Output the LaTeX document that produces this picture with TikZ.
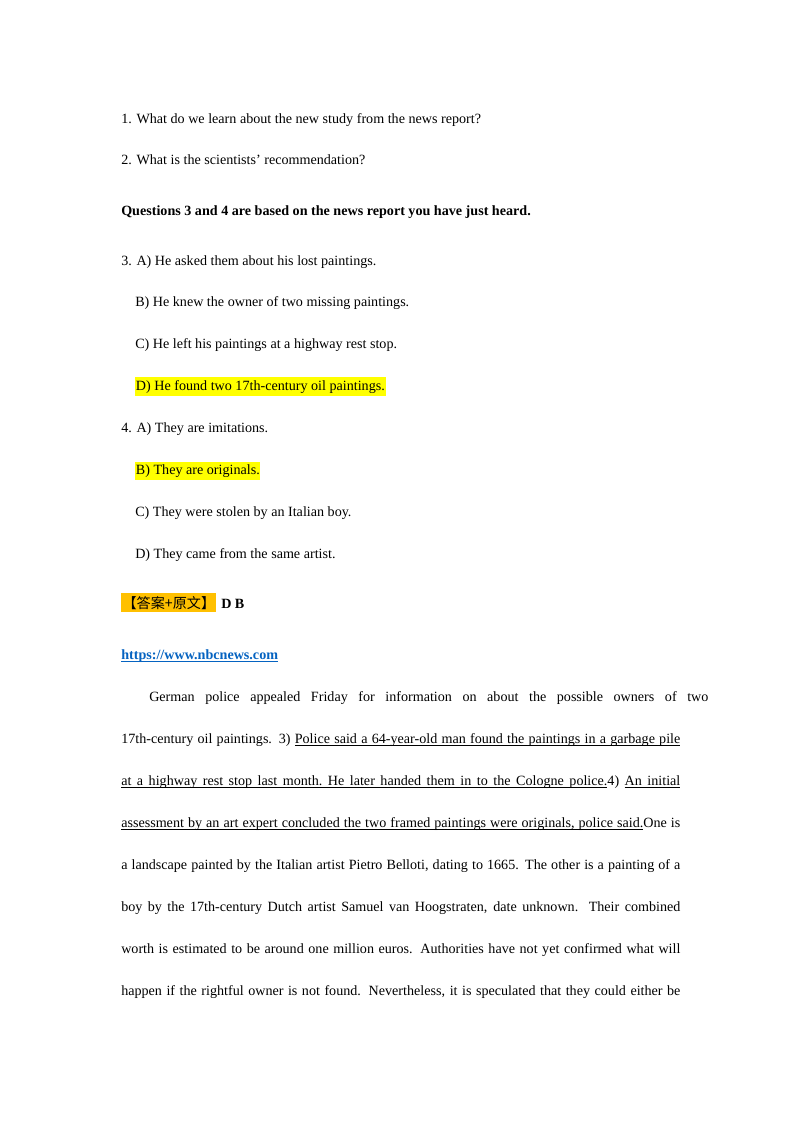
\documentclass[tikz,border=0pt]{standalone}
\usepackage{fontspec}
\setmainfont{Liberation Serif}
\newfontfamily\cjk{Noto Sans CJK SC}
\definecolor{hl}{HTML}{FFFF00}
\definecolor{ans}{HTML}{FFC000}
\definecolor{lnk}{HTML}{0563C1}
\newcommand\uw[1]{\setbox0\hbox{#1}\rlap{\vrule height -1.3pt depth 1.9pt width\wd0}\box0}
\newcommand\ulsp{\leaders\hrule height -1.3pt depth 1.9pt\hskip\fontdimen2\font plus\fontdimen3\font minus\fontdimen4\font}
\def\ulend{\ulend}
\newcommand\ul[1]{\ulA#1 \ulend}
\def\ulA#1 #2\ulend{\uw{#1}\if\relax\detokenize{#2}\relax\else\ulsp\ulA#2\ulend\fi}
\begin{document}
\begin{tikzpicture}[x=0.744pt,y=-0.744pt,
  every node/.style={inner sep=0pt,anchor=base west,font=\fontsize{10.5}{12}\selectfont},
  jl/.style={text width=416pt,align=justify},
  hlbox/.style={fill=hl,inner ysep=2pt,inner xsep=0.5pt}]
\fill[white] (0,0) rectangle (800,1132);
\node (q1) at (121,123) {1. What do we learn about the new study from the news report?};
\node (q2) at (121,164) {2. What is the scientists’ recommendation?};
\node (h) at (121,215) {\bfseries Questions 3 and 4 are based on the news report you have just heard.};
\node (a3) at (121,265) {3. A) He asked them about his lost paintings.};
\node (b3) at (135,306) {B) He knew the owner of two missing paintings.};
\node (c3) at (135,348) {C) He left his paintings at a highway rest stop.};
\node[hlbox] (d3) at (135,390) {D) He found two 17th-century oil paintings.};
\node (a4) at (121,432) {4. A) They are imitations.};
\node[hlbox] (b4) at (135,474) {B) They are originals.};
\node (c4) at (135,516) {C) They were stolen by an Italian boy.};
\node (d4) at (135,558) {D) They came from the same artist.};
\node[fill=ans,inner ysep=2pt,inner xsep=1pt] (key) at (121,608) {\cjk 【答案+原文】};
\node (db) at (221,608) {\bfseries D B};
\node (url) at (121,659) {\bfseries\color{lnk}\uw{https://www.nbcnews.com}};
\begin{scope}[every node/.append style={jl}]
\node (p1) at (149,701) {\parfillskip=0pt\parindent=0pt German police appealed Friday for information on about the possible owners of two\par};
\node[text width=416pt] (p2) at (121,743) {\parfillskip=0pt\parindent=0pt 17th-century oil paintings. 3) \ul{Police said a 64-year-old man found the paintings in a garbage pile}\par};
\node[text width=416pt] (p3) at (121,785) {\parfillskip=0pt\parindent=0pt \ul{at a highway rest stop last month. He later handed them in to the Cologne police.} 4) \ul{An initial}\par};
\node[text width=416pt] (p4) at (121,827) {\parfillskip=0pt\parindent=0pt \ul{assessment by an art expert concluded the two framed paintings were originals, police said.} One is\par};
\node[text width=416pt] (p5) at (121,869) {\parfillskip=0pt\parindent=0pt a landscape painted by the Italian artist Pietro Belloti, dating to 1665. The other is a painting of a\par};
\node[text width=416pt] (p6) at (121,911) {\parfillskip=0pt\parindent=0pt boy by the 17th-century Dutch artist Samuel van Hoogstraten, date unknown. Their combined\par};
\node[text width=416pt] (p7) at (121,953) {\parfillskip=0pt\parindent=0pt worth is estimated to be around one million euros. Authorities have not yet confirmed what will\par};
\node[text width=416pt] (p8) at (121,995) {\parfillskip=0pt\parindent=0pt happen if the rightful owner is not found. Nevertheless, it is speculated that they could either be\par};
\end{scope}
\end{tikzpicture}
\end{document}
